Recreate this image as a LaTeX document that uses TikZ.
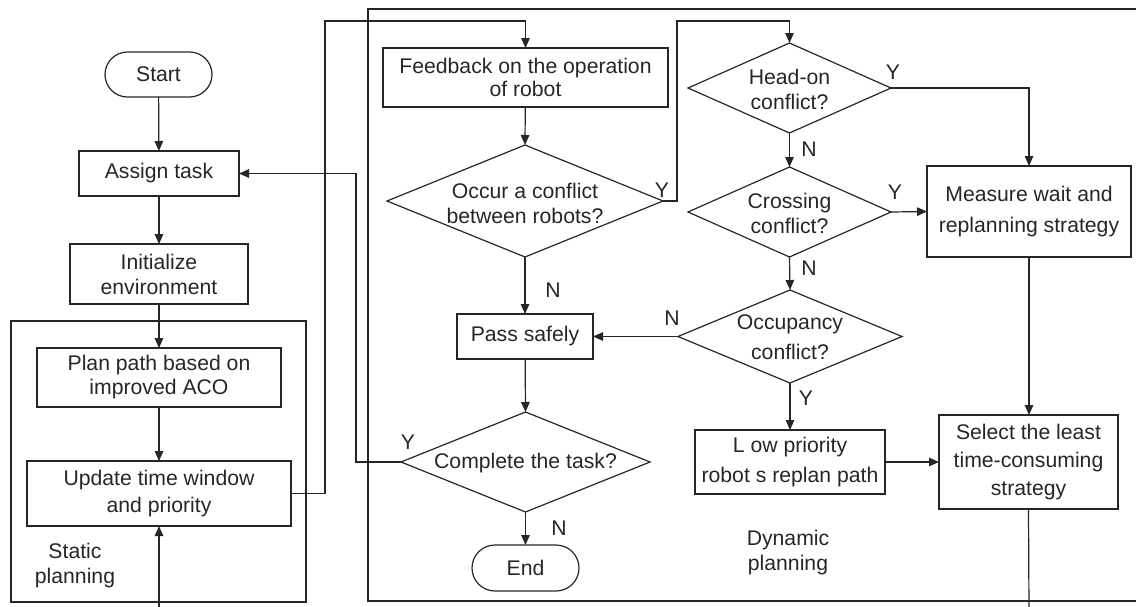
\documentclass[tikz,border=0pt]{standalone}
\usepackage{fontspec}
\setmainfont{Liberation Sans}
\usetikzlibrary{arrows.meta,shapes.geometric,shapes.misc}
\begin{document}
\begin{tikzpicture}[x=1pt,y=-1pt,
  every node/.style={font=\fontsize{21.2}{25}\selectfont, text=black!85},
  line/.style={draw=black!85, line width=1.2pt},
  arr/.style={line, -{Triangle[length=10pt,width=8.5pt]}},
  box/.style={draw=black!85, line width=1.2pt, rectangle, align=center, inner sep=0pt, outer sep=0pt},
  term/.style={draw=black!85, line width=1.2pt, rounded rectangle, inner sep=0pt, outer sep=0pt},
  dia/.style={draw=black!85, line width=1.2pt, diamond, inner sep=0pt, outer sep=0pt},
  lbl/.style={inner sep=0pt}
]
\useasboundingbox (0,0) rectangle (1136,606);
% frames
\draw[line] (11,321) rectangle (306,602);
\draw[line] (1150,9) -- (368,9) -- (368,601) -- (1150,601);
% left column
\node[term, minimum width=107pt, minimum height=45pt] (start) at (158.5,74.5) {Start};
\node[box, minimum width=160pt, minimum height=45pt] (assign) at (159,173.5) {Assign task};
\node[box, minimum width=178pt, minimum height=60pt] (init) at (159,274) {Initialize\\environment};
\node[box, minimum width=244pt, minimum height=59pt, font=\fontsize{21.2}{24}\selectfont] (plan) at (159,377.5) {Plan path based on\\improved ACO};
\node[box, minimum width=264pt, minimum height=65pt, font=\fontsize{21.2}{27}\selectfont] (upd) at (159,493.5) {Update time window\\and priority};
\node[lbl, align=center] (stat) at (75,566) {Static\\planning};
% middle column
\node[box, minimum width=285pt, minimum height=59pt, font=\fontsize{21.2}{23.5}\selectfont] (fb) at (525.5,77.5) {Feedback on the operation\\of robot};
\node[dia, minimum width=276pt, minimum height=112pt] (occ) at (525,201) {};
\node[lbl, align=center] (occT) at (525,203) {Occur a conflict\\between robots?};
\node[box, minimum width=136pt, minimum height=45pt] (pass) at (525,336.5) {Pass safely};
\node[dia, minimum width=249pt, minimum height=100pt] (comp) at (525.5,462) {};
\node[lbl] (compT) at (525.5,463) {Complete the task?};
\node[term, minimum width=107pt, minimum height=46pt] (end) at (525.5,568) {End};
% right column
\node[dia, minimum width=203pt, minimum height=90pt] (head) at (789.5,88) {};
\node[lbl, align=center] (headT) at (789.5,89) {Head-on\\conflict?};
\node[dia, minimum width=203pt, minimum height=90pt] (cross) at (789.5,212) {};
\node[lbl, align=center] (crossT) at (789.5,213) {Crossing\\conflict?};
\node[dia, minimum width=224pt, minimum height=93pt] (occu) at (790,336.5) {};
\node[lbl, align=center, font=\fontsize{21.2}{30}\selectfont] (occuT) at (790,337) {Occupancy\\conflict?};
\node[box, minimum width=190pt, minimum height=64pt, font=\fontsize{21.2}{30}\selectfont] (low) at (790,462) {L ow priority\\robot s replan path};
\node[box, minimum width=204pt, minimum height=91pt, font=\fontsize{21.2}{31}\selectfont] (meas) at (1029,211.5) {Measure wait and\\replanning strategy};
\node[box, minimum width=179pt, minimum height=94pt, font=\fontsize{21.2}{28}\selectfont] (sel) at (1028.5,462) {Select the least\\time-consuming\\strategy};
\node[lbl, align=center] (dyn) at (788,553) {Dynamic\\planning};
% helper coordinates
\coordinate (fbturn) at (325,21);
\coordinate (hdturn) at (677,21);
\coordinate (backturn) at (356,300);
\coordinate (updin) at (159,612);
\coordinate (selout) at (1029,612);
% connectors
\draw[arr] (start) -- (assign);
\draw[arr] (assign) -- (init);
\draw[arr] (init) -- (plan);
\draw[arr] (plan) -- (upd);
\draw[arr] (updin) -- (upd.south);
\draw[arr] (upd.east) -| (fbturn) -| (fb.north);
\draw[arr] (fb) -- (occ.north);
\draw[arr] (occ.east) -| (hdturn) -| (head.north);
\draw[arr] (occ.south) -- (pass.north);
\draw[arr] (pass) -- (comp.north);
\draw[arr] (comp.south) -- (end.north);
\draw[arr] (comp.west) -| (backturn) |- (assign.east);
\draw[arr] (head.east) -| (meas.north);
\draw[arr] (head.south) -- (cross.north);
\draw[arr] (cross.east) -- (meas.west);
\draw[arr] (cross.south) -- (occu.north);
\draw[arr] (occu.west) -- (pass.east);
\draw[arr] (occu.south) -- (low.north);
\draw[arr] (low.east) -- (sel.west);
\draw[arr] (meas.south) -- (meas.south |- sel.north);
\draw[line] (sel.south) -- (selout);
% branch labels
\node[lbl] (lY1) at (662,190) {Y};
\node[lbl] (lN1) at (553,290) {N};
\node[lbl] (lY2) at (408,442) {Y};
\node[lbl] (lN2) at (559,528) {N};
\node[lbl] (lY3) at (893,72) {Y};
\node[lbl] (lN3) at (809,149) {N};
\node[lbl] (lY4) at (895,192) {Y};
\node[lbl] (lN4) at (809,268) {N};
\node[lbl] (lN5) at (672,318) {N};
\node[lbl] (lY5) at (806,398) {Y};
\end{tikzpicture}
\end{document}
